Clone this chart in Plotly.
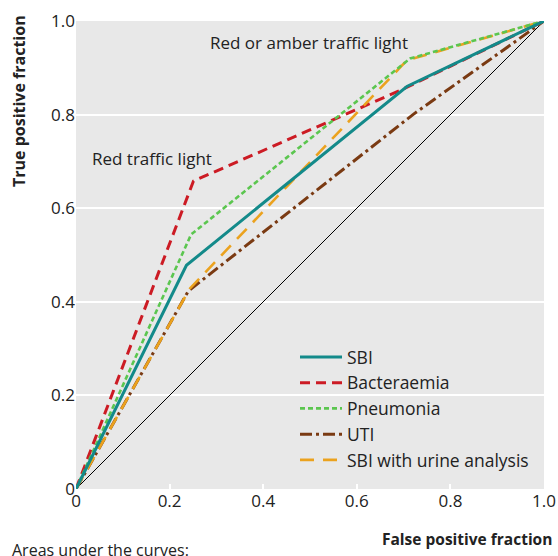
import plotly.graph_objects as go

# Data (false positive fraction, true positive fraction)
sbi_x = [0, 0.236, 0.707, 1.0]
sbi_y = [0, 0.478, 0.860, 1.0]
bact_x = [0, 0.251, 0.700, 1.0]
bact_y = [0, 0.658, 0.855, 1.0]
pneu_x = [0, 0.246, 0.714, 1.0]
pneu_y = [0, 0.544, 0.920, 1.0]
uti_x = [0, 0.240, 0.720, 1.0]
uti_y = [0, 0.423, 0.800, 1.0]
urine_x = [0, 0.243, 0.707, 1.0]
urine_y = [0, 0.428, 0.916, 1.0]
ref_x = [0, 1]
ref_y = [0, 1]

tick_vals = [0, 0.2, 0.4, 0.6, 0.8, 1.0]
tick_text = ["0", "0.2", "0.4", "0.6", "0.8", "1.0"]

FONT = "Open Sans"
TXT = "#222"

# plot area in the picture spans x 76..544, y 21..489
def px(x):
    return (x - 76) / 468

def py(y):
    return (489 - y) / 468

fig = go.Figure()
fig.add_trace(go.Scatter(x=ref_x, y=ref_y, mode="lines", line=dict(color="black", width=1),
                         showlegend=False, hoverinfo="skip"))
fig.add_trace(go.Scatter(x=uti_x, y=uti_y, mode="lines", name="UTI", legendrank=4, legendgroup="d",
                         line=dict(color="#7a3a12", width=3, dash="12px,4px,3px,4px")))
fig.add_trace(go.Scatter(x=bact_x, y=bact_y, mode="lines", name="Bacteraemia", legendrank=2, legendgroup="b",
                         line=dict(color="#cc1b24", width=3, dash="10px,6px")))
fig.add_trace(go.Scatter(x=urine_x, y=urine_y, mode="lines", name="SBI with urine analysis", legendrank=5, legendgroup="e",
                         line=dict(color="#eba21e", width=2.6, dash="14px,9px")))
fig.add_trace(go.Scatter(x=pneu_x, y=pneu_y, mode="lines", name="Pneumonia", legendrank=3, legendgroup="c",
                         line=dict(color="#5bc64f", width=2.6, dash="5px,3px")))
fig.add_trace(go.Scatter(x=sbi_x, y=sbi_y, mode="lines", name="SBI", legendrank=1, legendgroup="a",
                         line=dict(color="#138a8a", width=3)))

fig.add_annotation(x=0.282, y=0.955, xref="x", yref="y", text="Red or amber traffic light",
                   showarrow=False, xanchor="left", yanchor="middle", font=dict(size=17, color=TXT))
fig.add_annotation(x=0.030, y=0.707, xref="x", yref="y", text="Red traffic light",
                   showarrow=False, xanchor="left", yanchor="middle", font=dict(size=17, color=TXT))
fig.add_annotation(x=px(10), y=py(550), xref="paper", yref="paper",
                   text="Areas under the curves:", showarrow=False, xanchor="left", yanchor="middle",
                   font=dict(size=16, color=TXT))
fig.add_annotation(x=px(554), y=py(539), xref="paper", yref="paper",
                   text="<b>False positive fraction</b>", showarrow=False, xanchor="right", yanchor="middle",
                   font=dict(size=15.5, color=TXT))
fig.add_annotation(x=px(19), y=py(101), xref="paper", yref="paper",
                   text="<b>True positive fraction</b>", showarrow=False, textangle=-90,
                   xanchor="center", yanchor="middle", font=dict(size=16, color=TXT))

fig.update_layout(
    width=558, height=556,
    margin=dict(l=76, r=14, t=21, b=67, autoexpand=False),
    paper_bgcolor="white", plot_bgcolor="#e8e8e8",
    font=dict(family=FONT, size=16, color=TXT),
    legend=dict(x=px(295), y=py(339), xanchor="left", yanchor="top", bgcolor="rgba(0,0,0,0)",
                font=dict(size=17.5, color=TXT), tracegroupgap=0, itemwidth=42),
    hovermode=False,
)
fig.update_xaxes(range=[0, 1], tickvals=tick_vals, ticktext=tick_text, showgrid=False, zeroline=False,
                 ticks="inside", ticklen=5, tickwidth=2, tickcolor="white", showline=False, automargin=False,
                 tickfont=dict(size=17, color=TXT), fixedrange=True)
fig.update_yaxes(range=[0, 1], tickvals=tick_vals, ticktext=tick_text, showgrid=True, gridcolor="white",
                 gridwidth=2, zeroline=False, ticks="", showline=False, automargin=False,
                 tickfont=dict(size=17, color=TXT), fixedrange=True)

fig.write_html("out.html", config={"displayModeBar": False},
               post_script="document.body.style.margin='0';document.body.style.overflow='hidden';")
